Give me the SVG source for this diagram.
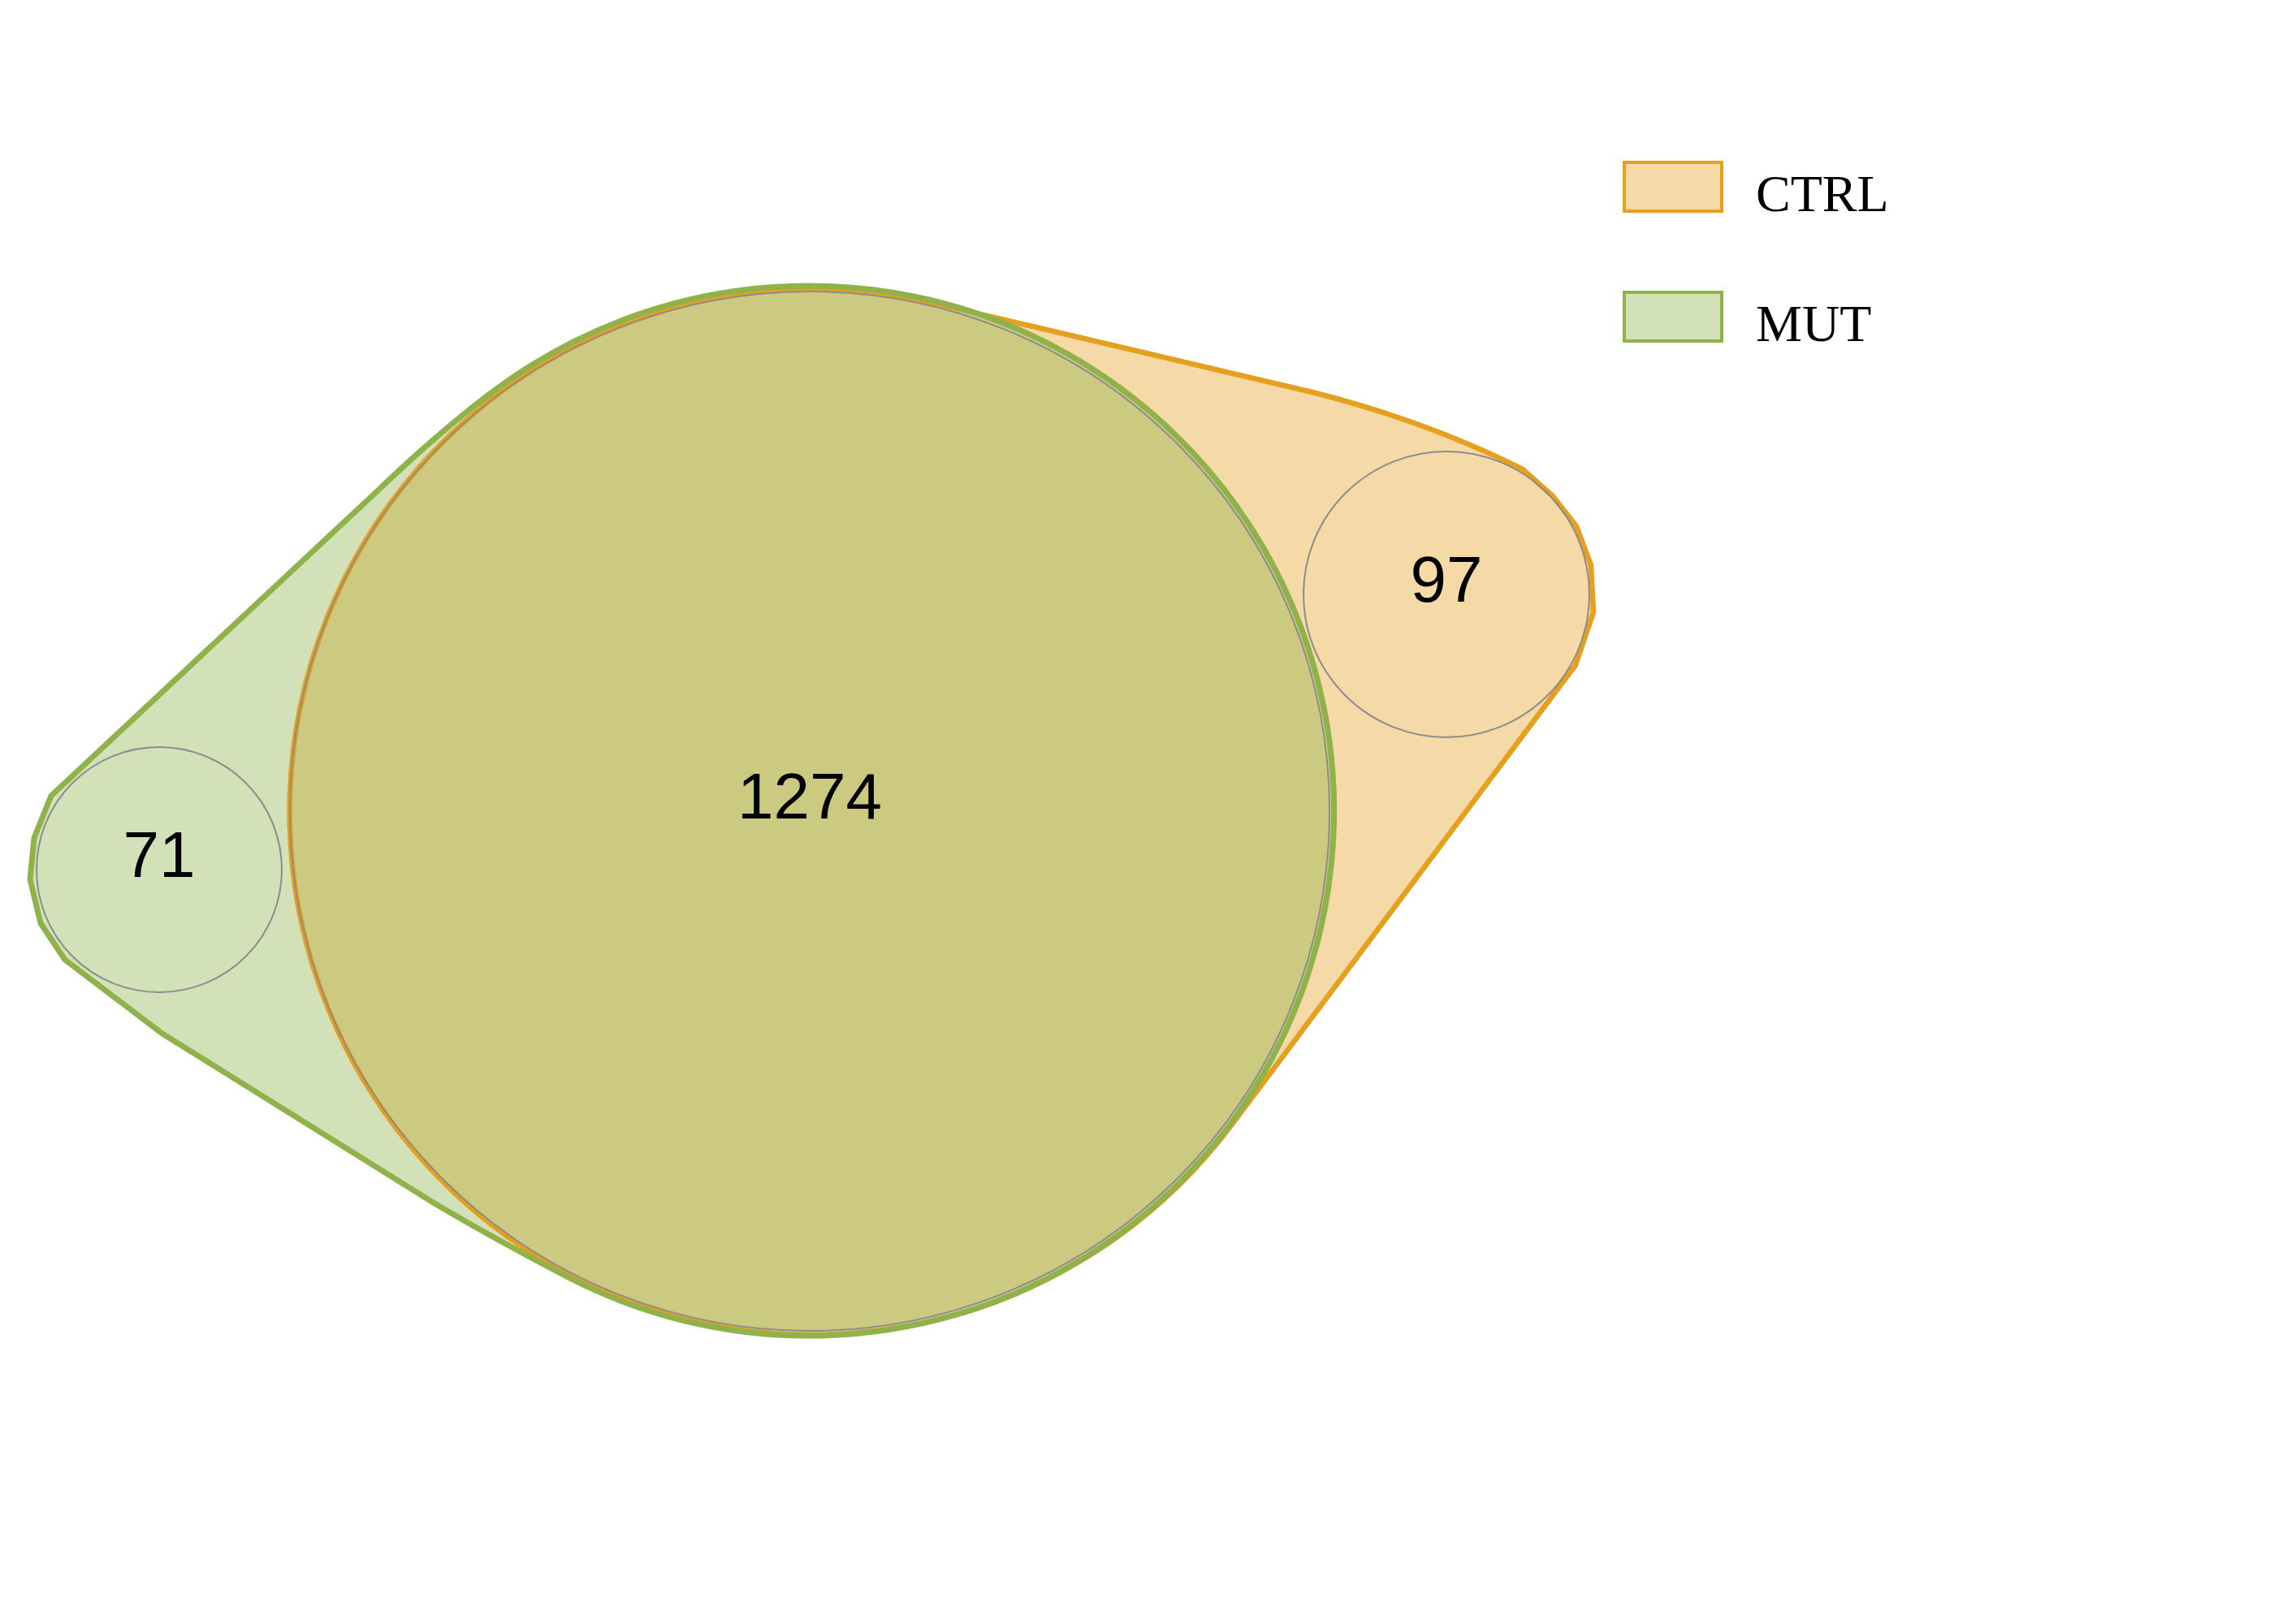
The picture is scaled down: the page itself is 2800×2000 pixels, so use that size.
<svg xmlns="http://www.w3.org/2000/svg" width="2800" height="2000" viewBox="0 0 2800 2000">
<style>
.ctrl-fill{fill:#E5A020;fill-opacity:0.4;stroke:none}
.mut-fill{fill:#8FB34A;fill-opacity:0.4;stroke:none}
.ctrl-line{fill:none;stroke:#E5A020;stroke-width:6.5;stroke-linejoin:round}
.mut-line{fill:none;stroke:#8FB34A;stroke-width:7;stroke-linejoin:round}
.ring{fill:none;stroke:#8C8C8C;stroke-width:2}
.num{font-family:"Liberation Sans",Arial,sans-serif;font-size:80px;fill:#000;text-anchor:middle}
.leg{font-family:"Liberation Serif","Times New Roman",serif;font-size:64px;fill:#000}
</style>
<defs>
<path id="ctrl-shape" d="M1159.1,375.6 L1620,484 Q1760,520 1875,578 L1912,611 L1941,648 L1959,696 L1962,754 L1940,819 L1515.6,1386.6 A644,644 0 1 1 1159.1,375.6 Z"/>
<path id="mut-shape" d="M654,450 A646.5,646.5 0 1 1 699,1572.7 Q612,1527.5 535,1482 L200,1273 L80,1182 L50,1137 L37,1083 L42,1032 L63,980 L460,609 Q575,499 654,450 Z"/>
</defs>
<rect width="2800" height="2000" fill="#fff"/>
<g id="sets">
<g id="set-ctrl-area"><use href="#ctrl-shape" class="ctrl-fill"/></g>
<g id="set-mut-area"><use href="#mut-shape" class="mut-fill"/></g>
<g id="set-ctrl-outline"><use href="#ctrl-shape" class="ctrl-line"/></g>
<g id="set-mut-outline"><use href="#mut-shape" class="mut-line"/></g>
</g>
<g id="region-both">
<circle class="ring" cx="997" cy="999" r="640"/>
<text class="num" x="997" y="1008">1274</text>
</g>
<g id="region-ctrl">
<circle class="ring" cx="1781" cy="732" r="176"/>
<text class="num" x="1781" y="741">97</text>
</g>
<g id="region-mut">
<circle class="ring" cx="196" cy="1071" r="151"/>
<text class="num" x="196" y="1080">71</text>
</g>
<g id="legend">
<g id="legend-ctrl">
<rect x="2000" y="200" width="120" height="60" fill="#E5A020" fill-opacity="0.4" stroke="#E5A020" stroke-width="4"/>
<text class="leg" x="2162" y="260">CTRL</text>
</g>
<g id="legend-mut">
<rect x="2000" y="360" width="120" height="60" fill="#8FB34A" fill-opacity="0.4" stroke="#8FB34A" stroke-width="4"/>
<text class="leg" x="2162" y="420">MUT</text>
</g>
</g>
</svg>
